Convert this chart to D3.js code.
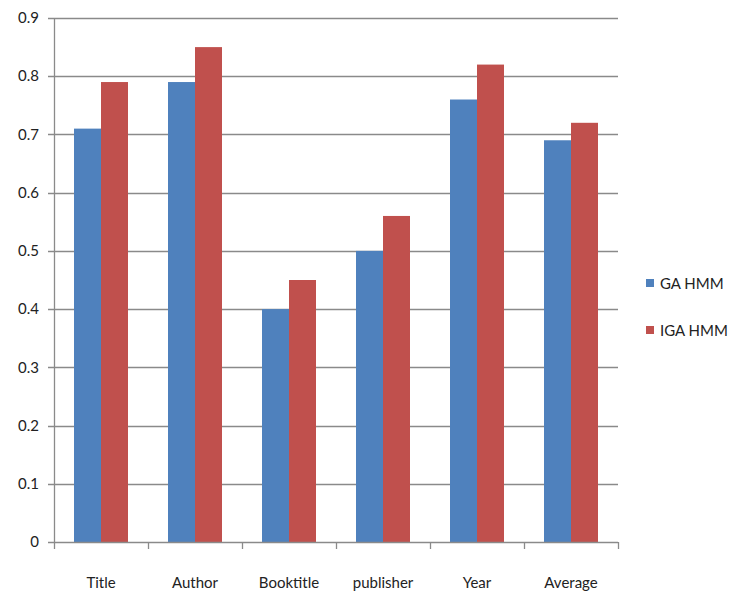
<!DOCTYPE html>
<html>
<head>
<meta charset="utf-8">
<script src="https://cdn.jsdelivr.net/npm/d3@7"></script>
<style>
  html, body { margin: 0; padding: 0; background: #fff; }
  svg { display: block; font-family: "Liberation Sans Narrow", "Lato", "DejaVu Sans Condensed", sans-serif; }
</style>
</head>
<body>
<svg id="chart" width="737" height="594"></svg>
<script>
// Field names along the x axis
const categories = ["Title", "Author", "Booktitle", "publisher", "Year", "Average"];
// Accuracy per field for each model
const gaHmm  = [0.71, 0.79, 0.40, 0.50, 0.76, 0.69];
const igaHmm = [0.79, 0.85, 0.45, 0.56, 0.82, 0.72];
const seriesNames = ["GA HMM", "IGA HMM"];
const seriesColors = ["#4F81BD", "#C0504D"];
const yTicks = [0, 0.1, 0.2, 0.3, 0.4, 0.5, 0.6, 0.7, 0.8, 0.9];

const svg = d3.select("#chart");
const plot = { left: 54, right: 618, top: 18, bottom: 542 };

const x = d3.scaleBand().domain(categories).range([plot.left, plot.right]).paddingInner(0).paddingOuter(0);
const gap = 20; // empty space either side of a bar pair
const x1 = d3.scaleBand().domain(seriesNames).range([gap, x.bandwidth() - gap]).padding(0);
const y = d3.scaleLinear().domain([0, 0.9]).range([plot.bottom, plot.top]);

const gridColor = "#8a8a8a";

// Horizontal gridlines with short tick marks left of the axis
svg.append("g").selectAll("line").data(yTicks.filter(d => d > 0)).join("line")
  .attr("x1", plot.left - 6).attr("x2", plot.right)
  .attr("y1", d => Math.round(y(d)) + 0.5).attr("y2", d => Math.round(y(d)) + 0.5)
  .attr("stroke", gridColor).attr("stroke-width", 1.3);

// Y tick labels
svg.append("g").selectAll("text").data(yTicks).join("text")
  .attr("x", 39).attr("y", d => y(d)).attr("dy", "0.35em")
  .attr("text-anchor", "end").attr("font-size", 15).attr("fill", "#222")
  .text(d => d === 0 ? "0" : d3.format(".1f")(d));

// Bars
const groups = svg.append("g").selectAll("g").data(categories).join("g")
  .attr("transform", d => `translate(${x(d)},0)`);
groups.selectAll("rect")
  .data((d, i) => [gaHmm[i], igaHmm[i]].map((v, s) => ({ v, s })))
  .join("rect")
  .attr("x", d => x1(seriesNames[d.s]))
  .attr("width", x1.bandwidth())
  .attr("y", d => y(d.v))
  .attr("height", d => y(0) - y(d.v))
  .attr("fill", d => seriesColors[d.s]);

// Axes lines
svg.append("line").attr("x1", plot.left + 0.5).attr("x2", plot.left + 0.5)
  .attr("y1", plot.top).attr("y2", plot.bottom)
  .attr("stroke", gridColor).attr("stroke-width", 1.3);
svg.append("line").attr("x1", plot.left - 6).attr("x2", plot.right)
  .attr("y1", plot.bottom + 0.5).attr("y2", plot.bottom + 0.5)
  .attr("stroke", gridColor).attr("stroke-width", 1.3);

// Category separators below the x axis
const sepX = categories.map(c => x(c)).concat([plot.right]);
svg.append("g").selectAll("line").data(sepX).join("line")
  .attr("x1", d => Math.round(d) + 0.5).attr("x2", d => Math.round(d) + 0.5)
  .attr("y1", plot.bottom).attr("y2", plot.bottom + 7)
  .attr("stroke", gridColor).attr("stroke-width", 1.3);

// Category labels
svg.append("g").selectAll("text").data(categories).join("text")
  .attr("x", d => x(d) + x.bandwidth() / 2).attr("y", 583).attr("dy", "0.35em")
  .attr("text-anchor", "middle").attr("font-size", 15).attr("fill", "#222")
  .text(d => d);

// Legend
const legend = svg.append("g").selectAll("g").data(seriesNames).join("g")
  .attr("transform", (d, i) => `translate(646,${279 + i * 47})`);
legend.append("rect").attr("width", 8).attr("height", 8)
  .attr("fill", (d, i) => seriesColors[i]);
legend.append("text").attr("x", 14).attr("y", 5).attr("dy", "0.35em")
  .attr("font-size", 15).attr("fill", "#222").text(d => d);
</script>
</body>
</html>
